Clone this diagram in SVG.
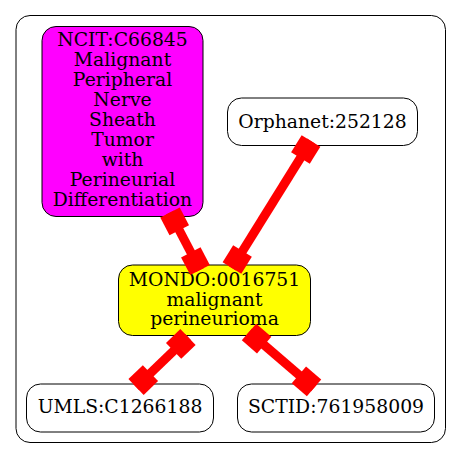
<svg xmlns="http://www.w3.org/2000/svg" width="461" height="459" viewBox="0 0 461 459">
<style>
.node rect{stroke:#000;stroke-width:1}
text{font-family:"DejaVu Serif","Liberation Serif",serif;font-size:18.8px;fill:#000;text-anchor:middle}
.edge line{stroke:#f00;stroke-width:9}
.edge rect{fill:#f00}
</style>
<rect width="461" height="459" fill="#fff"/>
<g id="cluster"><rect x="16" y="15.5" width="429.5" height="427" rx="14" fill="none" stroke="#000" stroke-width="1"/></g>
<g id="NCIT" class="node"><rect x="42" y="26.5" width="161" height="190" rx="14" fill="#f0f"/>
<text x="122.5" y="46">NCIT:C66845</text><text x="122.5" y="66">Malignant</text><text x="122.5" y="86">Peripheral</text><text x="122.5" y="106">Nerve</text><text x="122.5" y="126">Sheath</text><text x="122.5" y="146">Tumor</text><text x="122.5" y="166">with</text><text x="122.5" y="186">Perineurial</text><text x="122.5" y="206">Differentiation</text></g>
<g id="Orphanet" class="node"><rect x="227.5" y="98" width="190" height="47.5" rx="14" fill="#fff"/><text x="322.5" y="127.5">Orphanet:252128</text></g>
<g id="MONDO" class="node"><rect x="118.5" y="265" width="192" height="70.5" rx="14" fill="#ff0"/>
<text x="214.5" y="286">MONDO:0016751</text><text x="214.5" y="305.5">malignant</text><text x="214.5" y="325">perineurioma</text></g>
<g id="UMLS" class="node"><rect x="26.5" y="384" width="187" height="48" rx="14" fill="#fff"/><text x="120" y="413">UMLS:C1266188</text></g>
<g id="SCTID" class="node"><rect x="237.5" y="384" width="197" height="48" rx="14" fill="#fff"/><text x="336" y="413">SCTID:761958009</text></g>
<g id="edges" class="edge">
<g transform="translate(170,212.5) rotate(62.4)"><line x1="0" y1="0" x2="64.9" y2="0"/><rect x="0" y="-11" width="20" height="22"/><rect x="44.9" y="-11" width="20" height="22"/></g>
<g transform="translate(311,141) rotate(121.9)"><line x1="0" y1="0" x2="149.6" y2="0"/><rect x="0" y="-11" width="20" height="22"/><rect x="129.6" y="-11" width="20" height="22"/></g>
<g transform="translate(188,337) rotate(136.1)"><line x1="0" y1="0" x2="72.1" y2="0"/><rect x="0" y="-11" width="20" height="22"/><rect x="52.1" y="-11" width="20" height="22"/></g>
<g transform="translate(249,332) rotate(40.7)"><line x1="0" y1="0" x2="85.8" y2="0"/><rect x="0" y="-11" width="20" height="22"/><rect x="65.8" y="-11" width="20" height="22"/></g>
</g>
</svg>
